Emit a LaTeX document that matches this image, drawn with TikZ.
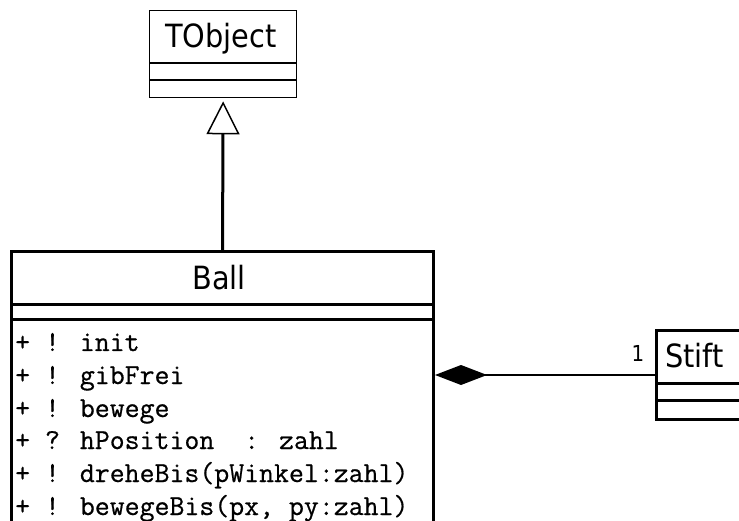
\documentclass[tikz,border=0pt]{standalone}
\usepackage{fontspec}
\newfontfamily\umlsans{DejaVu Sans Condensed}
\newfontfamily\umlmono[FakeBold=0.6]{Latin Modern Mono}
\usetikzlibrary{arrows.meta}

\tikzset{
  classbox/.style={draw, inner sep=0pt, anchor=north west},
  classname/.style={font=\umlsans\fontsize{32}{36}\selectfont, inner sep=0pt, anchor=base},
  opline/.style={font=\umlmono\fontsize{29}{32}\selectfont, inner sep=0pt, anchor=base west},
  multlabel/.style={font=\umlsans\fontsize{22}{24}\selectfont, inner sep=0pt, anchor=base},
}

\begin{document}
\begin{tikzpicture}[x=1pt,y=-1pt]
\useasboundingbox (0,0) rectangle (739,521);
\clip (0,0) rectangle (739,521);

% class TObject
\node[classbox, line width=1.3pt, minimum width=147pt, minimum height=87pt] (tobj) at (149,10) {};
\node[classname] (tobjname) at (221,48) {TObject};
\draw[line width=1.3pt] (149,63) -- (296,63) (149,80) -- (296,80);

% class Ball
\node[classbox, line width=3pt, minimum width=422pt, minimum height=300pt] (ball) at (10,250) {};
\node[classname] (ballname) at (219,290) {Ball};
\draw[line width=3pt] (10,305) -- (432,305) (10,320) -- (432,320);
\node[opline] (m1) at (15,351) {+ ! init};
\node[opline] (m2) at (15,384) {+ ! gibFrei};
\node[opline] (m3) at (15,417) {+ ! bewege};
\node[opline] (m4) at (15,449) {+ ? hPosition\ \ : zahl};
\node[opline] (m5) at (15,482) {+ ! dreheBis(pWinkel:zahl)};
\node[opline] (m6) at (15,515) {+ ! bewegeBis(px, py:zahl)};

% class Stift
\node[classbox, line width=3pt, minimum width=120pt, minimum height=89pt] (stift) at (655,329) {};
\node[classname, anchor=base west] (stiftname) at (665,367) {Stift};
\draw[line width=3pt] (655,383) -- (775,383) (655,400) -- (775,400);

% generalization Ball -> TObject
\draw[line width=3pt, shorten >=3pt,
      -{Triangle[open, length=33pt, width=33pt, line width=1.5pt]}]
  (ball.north) -- (tobj.south);

% composition Ball <>-- Stift
\draw[line width=2.5pt, {Diamond[length=52pt, width=20pt]}-]
  (ball.east |- stift.west) -- (stift.west);
\node[multlabel] (mult) at (638,362) {1};
\end{tikzpicture}
\end{document}
